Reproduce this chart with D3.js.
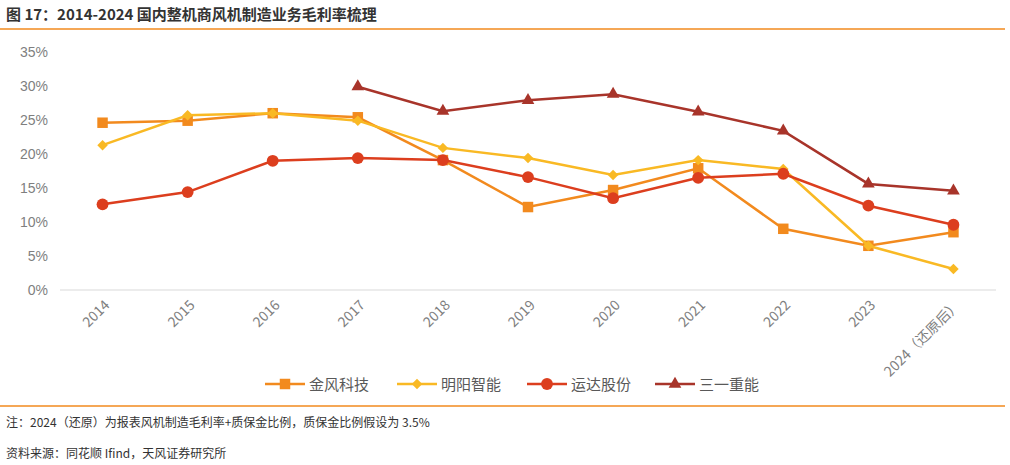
<!DOCTYPE html><html><head><meta charset="utf-8">
<script src="https://cdn.jsdelivr.net/npm/d3@7/dist/d3.min.js"></script>
<style>body{margin:0;background:#fff}svg{font-family:"Noto Sans CJK SC","Noto Sans",sans-serif}</style>
</head><body><svg id="c" width="1010" height="465"></svg>
<script>
const years=["2014","2015","2016","2017","2018","2019","2020","2021","2022","2023","2024（还原后）"];
const goldwind=[24.6,24.9,26.0,25.4,19.1,12.2,14.7,17.9,9.0,6.5,8.5];
const mingyang=[21.3,25.7,26.0,24.9,20.9,19.4,16.9,19.1,17.8,6.5,3.1];
const windey=[12.6,14.4,19.0,19.4,19.1,16.6,13.5,16.5,17.1,12.4,9.6];
const sany=[null,null,null,29.9,26.3,27.9,28.8,26.2,23.4,15.6,14.6];
const yTicks=[0,5,10,15,20,25,30,35];
const series=[
 {name:"金风科技",data:goldwind,color:"#F28A1E",sym:d3.symbolSquare,size:110,rot:0},
 {name:"明阳智能",data:mingyang,color:"#F9B924",sym:d3.symbolSquare,size:55,rot:45},
 {name:"运达股份",data:windey,color:"#DC3E1E",sym:d3.symbolCircle,size:110,rot:0},
 {name:"三一重能",data:sany,color:"#A8342A",sym:d3.symbolTriangle,size:70,rot:0}];
const svg=d3.select("#c");
svg.append("text").attr("x",6).attr("y",20).attr("font-size",15).attr("font-weight","bold").attr("fill","#333").text("图 17：2014-2024 国内整机商风机制造业务毛利率梳理");
svg.append("line").attr("x1",0).attr("x2",1005).attr("y1",29).attr("y2",29).attr("stroke","#F28A1E").attr("stroke-width",1.5);
const x=d3.scaleBand().domain(years).range([60,996]);
const y=d3.scaleLinear().domain([0,35]).range([290,52]);
const g=svg.append("g");
g.append("line").attr("x1",60).attr("x2",996).attr("y1",y(0)).attr("y2",y(0)).attr("stroke","#d9d9d9");
yTicks.forEach(t=>g.append("text").attr("x",48).attr("y",y(t)+5).attr("text-anchor","end").attr("font-size",14).attr("fill","#7f7f7f").attr("font-family","Liberation Sans").text(t+"%"));
years.forEach(yr=>{const cx=x(yr)+x.bandwidth()/2;
 g.append("text").attr("transform",`translate(${cx+8},${306}) rotate(-45)`).attr("text-anchor","end").attr("font-size",14).attr("fill","#7f7f7f").text(yr);});
series.forEach(s=>{
 const pts=s.data.map((v,i)=>({v,i})).filter(d=>d.v!=null);
 const line=d3.line().x(d=>x(years[d.i])+x.bandwidth()/2).y(d=>y(d.v));
 g.append("path").attr("d",line(pts)).attr("fill","none").attr("stroke",s.color).attr("stroke-width",2.5);
 pts.forEach(d=>g.append("path").attr("d",d3.symbol(s.sym,s.size)()).attr("transform",`translate(${x(years[d.i])+x.bandwidth()/2},${y(d.v)}) rotate(${s.rot})`).attr("fill",s.color));
});
const lx=[265,397,527,655];
series.forEach((s,i)=>{const L=svg.append("g").attr("transform",`translate(${lx[i]},384)`);
 L.append("line").attr("x1",0).attr("x2",40).attr("stroke",s.color).attr("stroke-width",2.5);
 L.append("path").attr("d",d3.symbol(s.sym,s.size)()).attr("transform",`translate(20,0) rotate(${s.rot})`).attr("fill",s.color);
 L.append("text").attr("x",44).attr("y",6).attr("font-size",15).attr("fill","#595959").text(s.name);});
svg.append("line").attr("x1",0).attr("x2",1005).attr("y1",406).attr("y2",406).attr("stroke","#F28A1E").attr("stroke-width",1.5);
svg.append("text").attr("x",6).attr("y",427).attr("font-size",12).attr("fill","#333").text("注：2024（还原）为报表风机制造毛利率+质保金比例，质保金比例假设为 3.5%");
svg.append("text").attr("x",6).attr("y",458).attr("font-size",12).attr("fill","#333").text("资料来源：同花顺 Ifind，天风证券研究所");
</script></body></html>
